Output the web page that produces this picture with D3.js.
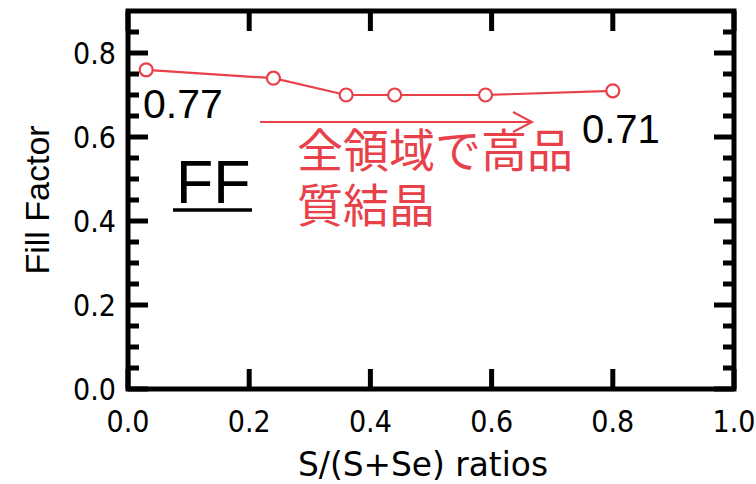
<!DOCTYPE html>
<html><head><meta charset="utf-8">
<script src="https://cdn.jsdelivr.net/npm/d3@7"></script>
<style>html,body{margin:0;padding:0;background:#fff;}svg{display:block;}</style>
</head><body>
<svg id="c" width="756" height="484"></svg>
<script>
// ---- data ----
const ratios = [0.03, 0.24, 0.36, 0.44, 0.59, 0.80];
const fillFactor = [0.76, 0.74, 0.70, 0.70, 0.70, 0.71];
const xTicks = [0.0, 0.2, 0.4, 0.6, 0.8, 1.0];
const yTicks = [0.0, 0.2, 0.4, 0.6, 0.8];
const yMinorTicks = [0.05,0.1,0.15,0.25,0.3,0.35,0.45,0.5,0.55,0.65,0.7,0.75,0.85];
const xTitle = "S/(S+Se) ratios";
const yTitle = "Fill Factor";
const startLabel = "0.77";
const endLabel = "0.71";
const panelLabel = "FF";
const noteLines = ["全領域で高品", "質結晶"];

const RED = "#e8414a";
const svg = d3.select("#c");
const L = 128, R = 734, T = 11, B = 389;
const x = d3.scaleLinear().domain([0, 1]).range([L, R]);
const y = d3.scaleLinear().domain([0, 0.9]).range([B, T]);

// ticks (inward on all sides)
const tickW = 5;
const g = svg.append("g");
yTicks.forEach(v => {
  g.append("line").attr("x1", L).attr("x2", L + 20).attr("y1", y(v)).attr("y2", y(v)).attr("stroke", "#000").attr("stroke-width", tickW);
  g.append("line").attr("x1", R).attr("x2", R - 20).attr("y1", y(v)).attr("y2", y(v)).attr("stroke", "#000").attr("stroke-width", tickW);
});
yMinorTicks.forEach(v => {
  g.append("line").attr("x1", L).attr("x2", L + 11).attr("y1", y(v)).attr("y2", y(v)).attr("stroke", "#000").attr("stroke-width", tickW);
  g.append("line").attr("x1", R).attr("x2", R - 11).attr("y1", y(v)).attr("y2", y(v)).attr("stroke", "#000").attr("stroke-width", tickW);
});
xTicks.forEach(v => {
  g.append("line").attr("x1", x(v)).attr("x2", x(v)).attr("y1", B).attr("y2", B - 20).attr("stroke", "#000").attr("stroke-width", tickW);
  g.append("line").attr("x1", x(v)).attr("x2", x(v)).attr("y1", T).attr("y2", T + 20).attr("stroke", "#000").attr("stroke-width", tickW);
});
// frame
svg.append("rect").attr("x", L).attr("y", T).attr("width", R - L).attr("height", B - T)
  .attr("fill", "none").attr("stroke", "#000").attr("stroke-width", 5);

// y tick labels
svg.append("g").selectAll("text").data(yTicks).join("text")
  .attr("x", L - 12).attr("y", d => y(d) + 11)
  .attr("text-anchor", "end")
  .attr("font-family", "'DejaVu Sans Condensed','DejaVu Sans',sans-serif")
  .attr("font-stretch", "condensed")
  .attr("font-size", 30).attr("fill", "#000")
  .text(d => d.toFixed(1));

// x tick labels
svg.append("g").selectAll("text").data(xTicks).join("text")
  .attr("x", d => x(d)).attr("y", 432)
  .attr("text-anchor", "middle")
  .attr("font-family", "'DejaVu Sans Condensed','DejaVu Sans',sans-serif")
  .attr("font-stretch", "condensed")
  .attr("font-size", 30).attr("fill", "#000")
  .text(d => d.toFixed(1));

// axis titles
svg.append("text").attr("transform", `translate(298,476) scale(1,1.1)`)
  .attr("text-anchor", "start")
  .attr("font-family", "'DejaVu Sans Condensed','DejaVu Sans',sans-serif")
  .attr("font-stretch", "condensed")
  .attr("textLength", 250).attr("lengthAdjust", "spacingAndGlyphs")
  .attr("font-size", 31).attr("fill", "#000").text(xTitle);
svg.append("text").attr("transform", "translate(49,200) rotate(-90)")
  .attr("text-anchor", "middle")
  .attr("font-family", "'Liberation Sans',Arial,sans-serif")
  .attr("font-size", 34).attr("fill", "#000").text(yTitle);

// series
const line = d3.line().x((d, i) => x(ratios[i])).y(d => y(d));
svg.append("path").datum(fillFactor).attr("d", line)
  .attr("fill", "none").attr("stroke", RED).attr("stroke-width", 2.2);
svg.append("g").selectAll("circle").data(fillFactor).join("circle")
  .attr("cx", (d, i) => x(ratios[i])).attr("cy", d => y(d)).attr("r", 6.5)
  .attr("fill", "#fff").attr("stroke", RED).attr("stroke-width", 2.2);

// annotations
svg.append("text").attr("x", 143).attr("y", 118)
  .attr("font-family", "'Liberation Sans',Arial,sans-serif").attr("font-size", 41).attr("fill", "#000").text(startLabel);
svg.append("text").attr("x", 582).attr("y", 143)
  .attr("font-family", "'Liberation Sans',Arial,sans-serif").attr("font-size", 40).attr("fill", "#000").text(endLabel);
svg.append("text").attr("x", 176).attr("y", 203)
  .attr("font-family", "'Liberation Sans',Arial,sans-serif").attr("font-size", 61).attr("fill", "#000").text(panelLabel);
svg.append("line").attr("x1", 173).attr("x2", 252).attr("y1", 210).attr("y2", 210)
  .attr("stroke", "#000").attr("stroke-width", 3.5);

// arrow
svg.append("line").attr("x1", 260).attr("x2", 531).attr("y1", 122).attr("y2", 122)
  .attr("stroke", RED).attr("stroke-width", 2);
svg.append("path").attr("d", "M513,112 L532,122 L513,132")
  .attr("fill", "none").attr("stroke", RED).attr("stroke-width", 2);

// Japanese note (one text block, two lines)
const note = svg.append("text")
  .attr("font-family", "'Noto Sans CJK JP',sans-serif").attr("font-size", 46).attr("fill", RED);
note.selectAll("tspan").data(noteLines).join("tspan")
  .attr("x", 297).attr("y", (d, i) => 167 + i * 55)
  .text(d => d);
</script>
</body></html>
